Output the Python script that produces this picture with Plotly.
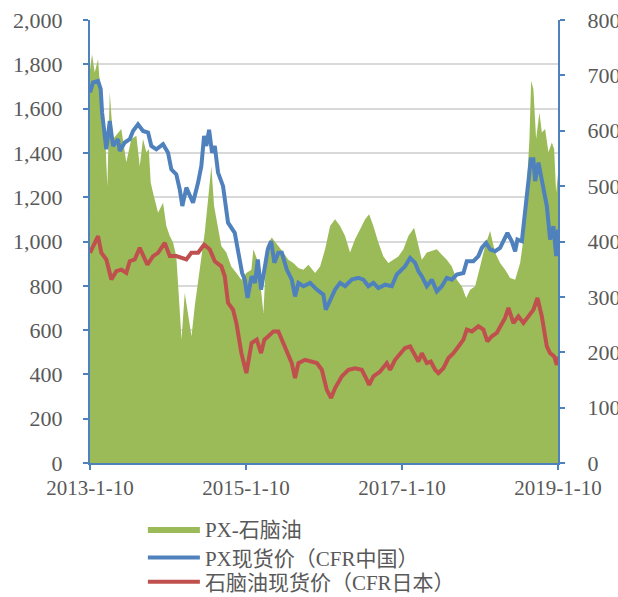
import pandas as pd
import plotly.graph_objects as go

# ---- data (time in decimal years) ----
px_t = [2013.025, 2013.063, 2013.128, 2013.162, 2013.179, 2013.234, 2013.278, 2013.320, 2013.384, 2013.406,
        2013.470, 2013.534, 2013.576, 2013.640, 2013.704, 2013.769, 2013.811, 2013.875, 2013.961, 2014.025,
        2014.067, 2014.131, 2014.175, 2014.208, 2014.260, 2014.345, 2014.410, 2014.452, 2014.487, 2014.516,
        2014.551, 2014.589, 2014.624, 2014.666, 2014.730, 2014.794, 2014.880, 2014.922, 2014.974, 2015.008,
        2015.044, 2015.096, 2015.140, 2015.175, 2015.217, 2015.260, 2015.303, 2015.346, 2015.388, 2015.439,
        2015.483, 2015.547, 2015.611, 2015.653, 2015.696, 2015.760, 2015.846, 2015.932, 2016.016, 2016.047,
        2016.102, 2016.166, 2016.230, 2016.294, 2016.380, 2016.465, 2016.529, 2016.593, 2016.657, 2016.721,
        2016.807, 2016.893, 2016.957, 2017.021, 2017.063, 2017.128, 2017.192, 2017.234, 2017.278, 2017.342,
        2017.406, 2017.470, 2017.534, 2017.598, 2017.662, 2017.726, 2017.811, 2017.854, 2017.939, 2018.003,
        2018.047, 2018.102, 2018.153, 2018.217, 2018.281, 2018.375, 2018.431, 2018.474, 2018.503, 2018.560,
        2018.602, 2018.644, 2018.675, 2018.708, 2018.730, 2018.773, 2018.816, 2018.880, 2018.922, 2018.965,
        2019.000, 2019.025]
px_price = [1673, 1718, 1725, 1688, 1584, 1416, 1544, 1431, 1462, 1409,
            1447, 1462, 1499, 1529, 1499, 1492, 1431, 1416, 1439, 1401,
            1326, 1303, 1235, 1160, 1243, 1175, 1266, 1341, 1477, 1431,
            1504, 1401, 1431, 1311, 1250, 1085, 1039, 964, 858, 828,
            745, 843, 813, 919, 783, 873, 964, 1001, 904, 949,
            949, 873, 828, 752, 813, 798, 813, 783, 760, 692,
            738, 783, 813, 798, 828, 836, 828, 798, 813, 790,
            805, 798, 851, 873, 888, 926, 904, 866, 843, 798,
            828, 775, 798, 836, 828, 851, 858, 911, 911, 934,
            971, 994, 964, 956, 971, 1039, 1001, 956, 1009, 1001,
            1130, 1250, 1371, 1371, 1273, 1356, 1281, 1160, 1009, 1069,
            934, 1054]

nap_t = [2013.025, 2013.063, 2013.128, 2013.170, 2013.234, 2013.298, 2013.362, 2013.426, 2013.490, 2013.534,
         2013.598, 2013.662, 2013.704, 2013.760, 2013.833, 2013.897, 2013.983, 2014.047, 2014.131, 2014.260,
         2014.324, 2014.410, 2014.487, 2014.560, 2014.624, 2014.708, 2014.752, 2014.794, 2014.858, 2014.901,
         2014.965, 2015.029, 2015.096, 2015.162, 2015.217, 2015.260, 2015.311, 2015.375, 2015.439, 2015.483,
         2015.547, 2015.611, 2015.653, 2015.696, 2015.781, 2015.846, 2015.932, 2015.996, 2016.060, 2016.115,
         2016.166, 2016.252, 2016.337, 2016.422, 2016.508, 2016.572, 2016.602, 2016.657, 2016.743, 2016.829,
         2016.871, 2016.935, 2017.021, 2017.063, 2017.128, 2017.192, 2017.234, 2017.278, 2017.342, 2017.393,
         2017.448, 2017.490, 2017.554, 2017.619, 2017.683, 2017.747, 2017.811, 2017.854, 2017.919, 2018.003,
         2018.067, 2018.118, 2018.175, 2018.239, 2018.303, 2018.345, 2018.388, 2018.452, 2018.516, 2018.580,
         2018.644, 2018.708, 2018.760, 2018.816, 2018.880, 2018.922, 2018.974, 2019.008, 2019.025]
nap_price = [949, 979, 1024, 949, 919, 828, 866, 873, 858, 911,
             919, 971, 934, 896, 934, 949, 994, 934, 934, 919,
             949, 949, 986, 964, 911, 888, 843, 723, 692, 632,
             496, 406, 542, 557, 496, 557, 572, 594, 594, 557,
             504, 451, 383, 451, 466, 458, 451, 421, 330, 293,
             338, 391, 421, 428, 421, 376, 353, 391, 413, 451,
             421, 466, 504, 519, 526, 481, 458, 496, 451, 458,
             421, 406, 428, 474, 496, 526, 557, 602, 594, 617,
             602, 549, 572, 587, 624, 655, 700, 632, 662, 632,
             662, 692, 745, 662, 526, 496, 481, 443, 481]

spread_t = [2013.025, 2013.051, 2013.085, 2013.128, 2013.170, 2013.213, 2013.247, 2013.278, 2013.320, 2013.384,
            2013.426, 2013.490, 2013.554, 2013.619, 2013.662, 2013.704, 2013.747, 2013.778, 2013.803, 2013.833,
            2013.897, 2013.961, 2014.003, 2014.047, 2014.089, 2014.131, 2014.153, 2014.198, 2014.239, 2014.265,
            2014.281, 2014.326, 2014.367, 2014.410, 2014.452, 2014.495, 2014.538, 2014.580, 2014.615, 2014.657,
            2014.708, 2014.772, 2014.836, 2014.901, 2014.965, 2015.029, 2015.093, 2015.119, 2015.183, 2015.247,
            2015.290, 2015.354, 2015.439, 2015.503, 2015.567, 2015.631, 2015.696, 2015.760, 2015.824, 2015.910,
            2015.974, 2016.038, 2016.102, 2016.166, 2016.230, 2016.294, 2016.358, 2016.422, 2016.487, 2016.551,
            2016.602, 2016.657, 2016.721, 2016.785, 2016.849, 2016.913, 2016.977, 2017.042, 2017.106, 2017.179,
            2017.234, 2017.278, 2017.342, 2017.406, 2017.470, 2017.534, 2017.598, 2017.662, 2017.726, 2017.790,
            2017.846, 2017.897, 2017.961, 2018.025, 2018.089, 2018.153, 2018.217, 2018.281, 2018.346, 2018.410,
            2018.474, 2018.538, 2018.580, 2018.624, 2018.657, 2018.679, 2018.708, 2018.743, 2018.785, 2018.816,
            2018.858, 2018.901, 2018.944, 2018.974, 2018.999, 2019.025]
spread = [711, 738, 705, 729, 645, 609, 500, 669, 585, 597,
          603, 543, 585, 591, 536, 585, 561, 567, 506, 488,
          452, 470, 428, 410, 398, 373, 319, 223, 307, 283,
          271, 229, 283, 325, 373, 416, 476, 536, 464, 428,
          392, 380, 355, 343, 331, 343, 349, 386, 361, 271,
          392, 407, 392, 380, 367, 361, 352, 349, 358, 343,
          355, 386, 428, 440, 428, 410, 380, 404, 422, 440,
          449, 428, 398, 373, 361, 367, 373, 386, 410, 425,
          392, 367, 380, 383, 386, 376, 367, 355, 331, 319,
          298, 313, 319, 355, 392, 419, 380, 361, 349, 334,
          331, 361, 404, 500, 585, 690, 675, 585, 633, 597,
          603, 561, 579, 567, 488, 524]

tick_dates = ["2013-01-10", "2015-01-10", "2017-01-10", "2019-01-10"]
tick_text = ["2013-1-10", "2015-1-10", "2017-1-10", "2019-1-10"]
names = ["PX-石脑油", "PX现货价（CFR中国）", "石脑油现货价（CFR日本）"]


def to_dates(ts):
    return [pd.Timestamp("2013-01-01") + pd.to_timedelta((t - 2013) * 365.25, unit="D") for t in ts]


GREEN = "#9BBB59"
BLUE = "#4F81BD"
RED = "#C0504D"
GRAY = "#595959"
FONT = "Liberation Serif, Times New Roman, Noto Sans CJK SC, serif"

fig = go.Figure()
fig.add_trace(go.Scatter(x=to_dates(spread_t), y=spread, name=names[0], mode="lines",
                         line=dict(color=GREEN, width=0), fill="tozeroy", fillcolor=GREEN,
                         yaxis="y", legend="legend", showlegend=True))
fig.add_trace(go.Scatter(x=to_dates(px_t), y=px_price, name=names[1], mode="lines",
                         line=dict(color=BLUE, width=4), yaxis="y2", legend="legend2"))
fig.add_trace(go.Scatter(x=to_dates(nap_t), y=nap_price, name=names[2], mode="lines",
                         line=dict(color=RED, width=4), yaxis="y2", legend="legend3"))

xtickfont = dict(family=FONT, size=21, color=GRAY)
ytickfont = dict(family=FONT, size=22, color=GRAY)
legfont = dict(family=FONT, size=21, color=GRAY)
legcommon = dict(xanchor="left", yanchor="middle", font=legfont, bgcolor="rgba(0,0,0,0)",
                 itemwidth=52)
fig.update_layout(
    width=618, height=597,
    margin=dict(l=90, r=60, t=20, b=134, autoexpand=False),
    paper_bgcolor="white", plot_bgcolor="white",
    showlegend=True,
    xaxis=dict(range=["2013-01-10", "2019-01-10"], tickvals=tick_dates, ticktext=tick_text,
               showline=True, linecolor=BLUE, linewidth=2, ticks="outside", tickcolor=BLUE,
               ticklen=5, tickwidth=2, showgrid=False, tickfont=xtickfont, zeroline=False,
               ticklabelstandoff=0, automargin=False, ticklabeloverflow="allow"),
    yaxis=dict(range=[0, 800], dtick=100, side="right", showgrid=False, showline=True,
               linecolor=BLUE, linewidth=2, ticks="outside", tickcolor=BLUE, ticklen=5, tickwidth=2,
               tickfont=ytickfont, zeroline=False, ticklabelstandoff=18, automargin=False,
               ticklabeloverflow="allow"),
    yaxis2=dict(range=[0, 2000], dtick=200, side="left", overlaying="y", showgrid=True,
                gridcolor="#D9D9D9", gridwidth=1.5, showline=True, linecolor=BLUE, linewidth=2,
                ticks="outside", tickcolor=BLUE, ticklen=5, tickwidth=2, tickformat=",",
                tickfont=ytickfont, zeroline=False, ticklabelstandoff=16, automargin=False,
                ticklabeloverflow="allow"),
    legend=dict(x=0.113, y=-0.150, **legcommon),
    legend2=dict(x=0.113, y=-0.214, **legcommon),
    legend3=dict(x=0.113, y=-0.269, **legcommon),
)

fig.write_html("out.html", config={"displayModeBar": False},
               post_script="document.body.style.margin='0';document.body.style.overflow='hidden';")
